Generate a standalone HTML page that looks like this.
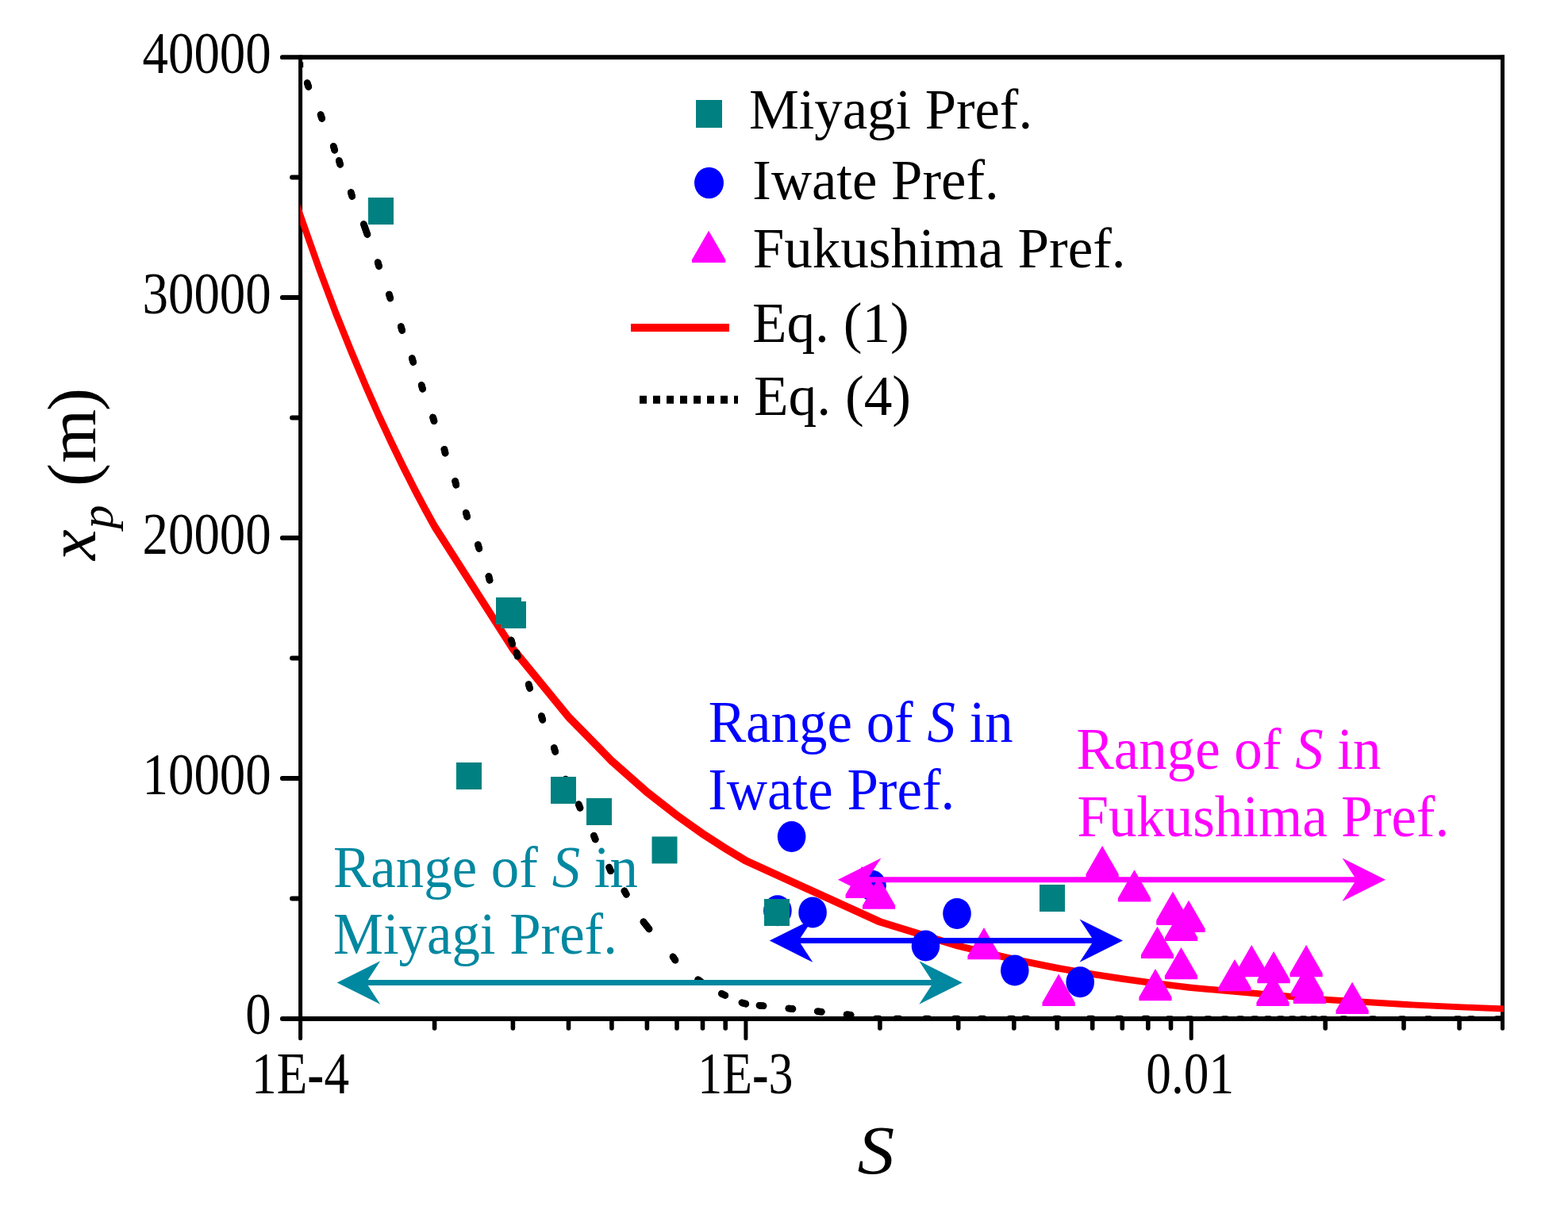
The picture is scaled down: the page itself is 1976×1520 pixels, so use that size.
<!DOCTYPE html>
<html lang="en"><head><meta charset="utf-8"><title>x_p versus S</title>
<style>
html,body{margin:0;padding:0;background:#fff;}
body{width:1976px;height:1520px;overflow:hidden;}
svg{display:block;}
text{font-family:"Liberation Serif","Times New Roman",Times,serif;white-space:pre;}
</style></head><body>
<svg width="1976" height="1520" viewBox="0 0 1976 1520">
<rect width="1976" height="1520" fill="#fff"/>
<defs><clipPath id="plot"><rect x="378.3" y="60" width="1516.9" height="1240"/></clipPath><clipPath id="plot2"><rect x="378.6" y="72" width="1515" height="1212"/></clipPath></defs>
<g id="eq4-under" fill="none" stroke="#000" stroke-width="8.6" stroke-linecap="round" clip-path="url(#plot2)"><path d="M387.2 104.6L388.8 109.4M404.1 144.6L405.7 149.4M420.3 184.4L421.7 189.2M427.3 202.5L428.7 207.3M442.3 242.6L443.7 247.4M476.2 330.7L477.6 335.5M490.4 371.1L491.8 375.9M505.3 411.6L506.7 416.4M519.3 451.6L520.7 456.4M531.2 485.4L532.6 490.2M545.6 526.0L547.0 530.8M559.9 566.3L561.1 571.1M573.6 606.4L574.8 611.2M587.3 646.4L588.7 651.2M602.4 686.6L603.8 691.4M615.9 726.4L617.1 731.2M629.3 766.6L630.7 771.4M644.2 806.9L645.6 811.7M650.9 822.5L652.3 827.3M666.2 862.6L667.6 867.4M682.4 902.5L683.8 907.3M698.3 942.6L699.7 947.4M712.9 982.1L714.5 986.9M729.2 1013.7L731.0 1018.3M748.4 1053.3L750.2 1057.9M767.6 1093.1L769.6 1097.7M786.9 1122.9L789.3 1127.3M848.1 1205.9L850.9 1210.1M879.7 1234.7L883.7 1237.7M909.4 1252.3L913.8 1254.5M935.0 1263.8L939.8 1265.2M957.0 1267.2L962.0 1267.8M993.9 1271.0L998.9 1271.6M1030.3 1274.7L1035.3 1275.3M1067.1 1278.7L1072.1 1279.3M458.4 282.6L462.9 295.4M810.9 1161.8L818.0 1170.9M1103.6 1284.0L1108.0 1284.0M1129.2 1284.0L1133.6 1284.0M1166.0 1284.0L1170.4 1284.0M1202.7 1284.0L1207.1 1284.0M1235.4 1284.0L1239.8 1284.0M1272.2 1284.0L1276.6 1284.0M1290.5 1284.0L1294.9 1284.0M1329.8 1284.0L1334.2 1284.0M1372.4 1284.0L1376.8 1284.0M1408.3 1284.0L1412.7 1284.0M1441.8 1284.0L1446.2 1284.0M1471.8 1284.6L1476.2 1284.6M1496.8 1284.6L1501.2 1284.6M1520.2 1284.6L1524.6 1284.6M1541.4 1284.6L1545.8 1284.6M1561.0 1284.6L1565.4 1284.6M1579.0 1284.6L1583.4 1284.6M1595.8 1284.6L1600.2 1284.6M1611.6 1284.6L1616.0 1284.6M1626.4 1284.6L1630.8 1284.6M1640.3 1284.6L1644.7 1284.6M1653.5 1284.6L1657.9 1284.6M1666.0 1284.6L1670.4 1284.6M1691.1 1284.6L1695.5 1284.6M1727.8 1284.6L1732.2 1284.6M1764.8 1284.6L1769.2 1284.6M1797.8 1284.6L1802.2 1284.6M1834.8 1284.6L1839.2 1284.6M1851.8 1284.6L1856.2 1284.6M1885.8 1284.6L1890.2 1284.6"/><rect x="380" y="78.3" width="2.2" height="6.8" fill="#000" stroke="none"/></g>
<g id="axes" stroke="#000" fill="none" stroke-linecap="butt">
<path d="M378 72.2H1896M378 1284H1896" stroke-width="5.8"/>
<path d="M378.6 69.6V1286M1893.5 69.6V1286" stroke-width="5"/>
<path d="M355.8 1284.0H376.5M355.8 981.0H376.5M355.8 678.0H376.5M355.8 375.0H376.5M355.8 72.2H376.5M368 1132.5H376.5M368 829.5H376.5M368 526.5H376.5M368 223.5H376.5" stroke-width="5.8" stroke-linecap="round"/>
<path d="M378.6 1284V1308.8M939.9 1284V1308.8M1501.2 1284V1308.8" stroke-width="5" stroke-linecap="round"/>
<path d="M547.6 1284V1296M646.4 1284V1296M716.5 1284V1296M770.9 1284V1296M815.4 1284V1296M853.0 1284V1296M885.5 1284V1296M914.2 1284V1296M1108.9 1284V1296M1207.7 1284V1296M1277.8 1284V1296M1332.2 1284V1296M1376.7 1284V1296M1414.3 1284V1296M1446.8 1284V1296M1475.5 1284V1296M1670.2 1284V1296M1769.0 1284V1296M1839.1 1284V1296" stroke-width="5.6" stroke-linecap="round"/>
<path d="M1893.5 1284V1296.2" stroke-width="5" stroke-linecap="round"/>
</g>
<path id="eq1" d="M356.0 189.8L381.7 267.9L404.9 333.8L426.1 390.2L445.7 439.1L463.7 481.9L480.5 519.9L496.3 553.8L511.1 584.2L525.0 611.7L538.2 636.8L550.7 659.6L649.5 814.1L719.6 899.8L774.0 955.2L818.5 994.5L856.1 1023.9L888.6 1047.0L917.3 1065.6L943.0 1081.0L1112.0 1158.0L1210.8 1188.4L1280.9 1205.3L1335.3 1216.2L1379.8 1223.9L1417.4 1229.7L1449.9 1234.3L1478.6 1237.9L1504.3 1241.0L1673.3 1256.1L1772.1 1262.1L1842.2 1265.4L1896.6 1267.6L1910.8 1268.1L1904.6 1275.8L1890.4 1275.3L1836.0 1273.1L1765.9 1269.8L1667.1 1263.8L1498.1 1248.7L1472.4 1245.6L1443.7 1242.0L1411.2 1237.4L1373.6 1231.6L1329.1 1223.9L1274.7 1213.0L1204.6 1196.1L1105.8 1165.7L936.8 1088.7L911.1 1073.3L882.4 1054.7L849.9 1031.6L812.3 1002.2L767.8 962.9L713.4 907.5L643.3 821.8L544.5 667.3L532.0 644.5L518.8 619.4L504.9 591.9L490.1 561.5L474.3 527.6L457.5 489.6L439.5 446.8L419.9 397.9L398.7 341.5L375.5 275.6L349.8 197.5Z" fill="#FF0000" clip-path="url(#plot)"/>
<g id="eq4" fill="none" stroke="#000" stroke-width="8.6" stroke-linecap="round" clip-path="url(#plot2)"><path d="M387.2 104.6L388.8 109.4M404.1 144.6L405.7 149.4M420.3 184.4L421.7 189.2M427.3 202.5L428.7 207.3M442.3 242.6L443.7 247.4M476.2 330.7L477.6 335.5M490.4 371.1L491.8 375.9M505.3 411.6L506.7 416.4M519.3 451.6L520.7 456.4M531.2 485.4L532.6 490.2M545.6 526.0L547.0 530.8M559.9 566.3L561.1 571.1M573.6 606.4L574.8 611.2M587.3 646.4L588.7 651.2M602.4 686.6L603.8 691.4M615.9 726.4L617.1 731.2M629.3 766.6L630.7 771.4M644.2 806.9L645.6 811.7M650.9 822.5L652.3 827.3M666.2 862.6L667.6 867.4M682.4 902.5L683.8 907.3M698.3 942.6L699.7 947.4M712.9 982.1L714.5 986.9M729.2 1013.7L731.0 1018.3M748.4 1053.3L750.2 1057.9M767.6 1093.1L769.6 1097.7M786.9 1122.9L789.3 1127.3M848.1 1205.9L850.9 1210.1M879.7 1234.7L883.7 1237.7M909.4 1252.3L913.8 1254.5M935.0 1263.8L939.8 1265.2M957.0 1267.2L962.0 1267.8M993.9 1271.0L998.9 1271.6M1030.3 1274.7L1035.3 1275.3M1067.1 1278.7L1072.1 1279.3M458.4 282.6L462.9 295.4M810.9 1161.8L818.0 1170.9"/></g>
<g id="iwate" fill="#0000FF"><ellipse cx="997.6" cy="1054.5" rx="17.8" ry="19.5"/><ellipse cx="979.9" cy="1147.8" rx="17.8" ry="19.5"/><ellipse cx="1024.1" cy="1149.9" rx="17.8" ry="19.5"/><ellipse cx="1099.0" cy="1116.2" rx="17.8" ry="19.5"/><ellipse cx="1166.5" cy="1191.9" rx="17.8" ry="19.5"/><ellipse cx="1206.0" cy="1151.4" rx="17.8" ry="19.5"/><ellipse cx="1278.8" cy="1223.1" rx="17.8" ry="19.5"/><ellipse cx="1361.2" cy="1237.8" rx="17.8" ry="19.5"/></g>
<g id="miyagi" fill="#008080"><rect x="464.0" y="249.0" width="32" height="34"/><rect x="625.0" y="753.0" width="32" height="34"/><rect x="631.0" y="758.0" width="32" height="34"/><rect x="575.0" y="961.0" width="32" height="34"/><rect x="694.0" y="979.0" width="32" height="34"/><rect x="739.0" y="1006.0" width="32" height="34"/><rect x="821.5" y="1054.4" width="32" height="34"/><rect x="963.0" y="1133.0" width="32" height="34"/><rect x="1310.0" y="1115.0" width="32" height="34"/></g>
<g id="fukushima" fill="#FF00FF"><path d="M1086.2 1091.8L1106.8 1127.6V1132.1H1065.6V1127.6Z"/><path d="M1107.5 1105.5L1128.1 1141.3V1145.8H1087.0V1141.3Z"/><path d="M1240.0 1168.9L1260.6 1204.7V1209.2H1219.4V1204.7Z"/><path d="M1334.1 1227.6L1354.7 1263.4V1267.9H1313.5V1263.4Z"/><path d="M1389.1 1066.0L1409.7 1101.8V1106.3H1368.5V1101.8Z"/><path d="M1429.5 1096.2L1450.1 1132.0V1136.5H1408.9V1132.0Z"/><path d="M1478.0 1123.7L1498.6 1159.5V1164.0H1457.4V1159.5Z"/><path d="M1478.0 1125.7L1498.6 1161.5V1166.0H1457.4V1161.5Z"/><path d="M1498.0 1134.8L1518.6 1170.6V1175.1H1477.4V1170.6Z"/><path d="M1488.6 1145.8L1509.2 1181.6V1186.1H1468.0V1181.6Z"/><path d="M1458.5 1167.7L1479.1 1203.5V1208.0H1437.9V1203.5Z"/><path d="M1488.5 1193.9L1509.1 1229.7V1234.2H1467.9V1229.7Z"/><path d="M1456.0 1221.0L1476.6 1256.8V1261.3H1435.4V1256.8Z"/><path d="M1556.0 1209.0L1576.6 1244.8V1249.3H1535.4V1244.8Z"/><path d="M1577.2 1190.9L1597.8 1226.7V1231.2H1556.6V1226.7Z"/><path d="M1605.1 1198.9L1625.7 1234.7V1239.2H1584.5V1234.7Z"/><path d="M1604.0 1227.7L1624.6 1263.5V1268.0H1583.4V1263.5Z"/><path d="M1646.1 1190.9L1666.7 1226.7V1231.2H1625.5V1226.7Z"/><path d="M1647.2 1215.6L1667.8 1251.4V1255.9H1626.6V1251.4Z"/><path d="M1650.5 1224.8L1671.1 1260.6V1265.1H1629.9V1260.6Z"/><path d="M1704.1 1237.7L1724.7 1273.5V1278.0H1683.5V1273.5Z"/></g>
<g id="legend-symbols"><rect x="877" y="126" width="33" height="35" fill="#008080"/><ellipse cx="893.5" cy="230.5" rx="18.5" ry="19.8" fill="#0000FF"/><g fill="#FF00FF"><path d="M893.1 290.8L914.2 327.2V331.1H872.0V327.2Z"/></g><path d="M795 412.9H919" stroke="#FF0000" stroke-width="10" fill="none"/><path d="M806 503.8H930" stroke="#000" stroke-width="10" stroke-dasharray="9 8" fill="none"/></g>
<g id="ranges">
<path d="M424.7 1238.5L479.2 1211.3L463.7 1235.0L1173.8 1235.0L1158.3 1211.3L1212.8 1238.5L1158.3 1265.7L1173.8 1242.0L463.7 1242.0L479.2 1265.7Z" fill="#0088A0"/>
<path d="M969.8 1185.6L1024.3 1158.4L1008.8 1182.1L1376.0 1182.1L1360.5 1158.4L1415.0 1185.6L1360.5 1212.8L1376.0 1189.1L1008.8 1189.1L1024.3 1212.8Z" fill="#0000FF"/>
<path d="M1055.9 1108.7L1110.4 1081.5L1094.9 1105.2L1707.0 1105.2L1691.5 1081.5L1746.0 1108.7L1691.5 1135.9L1707.0 1112.2L1094.9 1112.2L1110.4 1135.9Z" fill="#FF00FF"/>
</g>
<g id="labels">
<text transform="translate(179.51 91.85) scale(0.8690 1)" font-size="74.7" fill="#000">40000</text>
<text transform="translate(179.51 394.55) scale(0.8690 1)" font-size="74.7" fill="#000">30000</text>
<text transform="translate(179.51 697.55) scale(0.8690 1)" font-size="74.7" fill="#000">20000</text>
<text transform="translate(179.51 1000.55) scale(0.8690 1)" font-size="74.7" fill="#000">10000</text>
<text transform="translate(309.34 1303.35) scale(0.8690 1)" font-size="74.7" fill="#000">0</text>
<text transform="translate(317.11 1378.20) scale(0.8469 1)" font-size="74.7" fill="#000">1E<tspan font-weight="bold">-</tspan>4</text>
<text transform="translate(879.23 1378.20) scale(0.8283 1)" font-size="74.7" fill="#000">1E<tspan font-weight="bold">-</tspan>3</text>
<text transform="translate(1444.27 1378.40) scale(0.8478 1)" font-size="74.7" fill="#000">0.01</text>
<text transform="translate(1080.47 1479.40) scale(1.0646 1)" font-size="87.8" fill="#000"><tspan font-style="italic">S</tspan></text>
<text transform="translate(943.88 162.00) scale(0.9804 1)" font-size="72.1" fill="#000">Miyagi Pref.</text>
<text transform="translate(948.32 250.80) scale(0.9814 1)" font-size="72.1" fill="#000">Iwate Pref.</text>
<text transform="translate(948.67 336.90) scale(0.9861 1)" font-size="72.1" fill="#000">Fukushima Pref.</text>
<text transform="translate(947.96 430.60) scale(0.9881 1)" font-size="72.1" fill="#000">Eq. (1)</text>
<text transform="translate(949.96 522.80) scale(0.9896 1)" font-size="72.1" fill="#000">Eq. (4)</text>
<text transform="translate(419.97 1117.50) scale(0.9664 1)" font-size="73.4" fill="#0088A0">Range of <tspan font-style="italic">S</tspan> in</text>
<text transform="translate(419.98 1201.90) scale(0.9649 1)" font-size="73.4" fill="#0088A0">Miyagi Pref.</text>
<text transform="translate(892.77 934.50) scale(0.9664 1)" font-size="73.4" fill="#0000FF">Range of <tspan font-style="italic">S</tspan> in</text>
<text transform="translate(892.22 1019.50) scale(0.9662 1)" font-size="73.4" fill="#0000FF">Iwate Pref.</text>
<text transform="translate(1356.47 969.30) scale(0.9664 1)" font-size="73.4" fill="#FF00FF">Range of <tspan font-style="italic">S</tspan> in</text>
<text transform="translate(1357.47 1053.70) scale(0.9661 1)" font-size="73.4" fill="#FF00FF">Fukushima Pref.</text>
<text transform="translate(119.8 706.8) rotate(-90)" font-size="87"><tspan font-style="italic" x="0.9">x</tspan><tspan font-style="italic" font-size="60" x="40.4" y="21.8">p</tspan><tspan x="93.7" y="0">(</tspan><tspan x="123.2">m</tspan><tspan x="188.9">)</tspan></text>
</g>
</svg></body></html>
